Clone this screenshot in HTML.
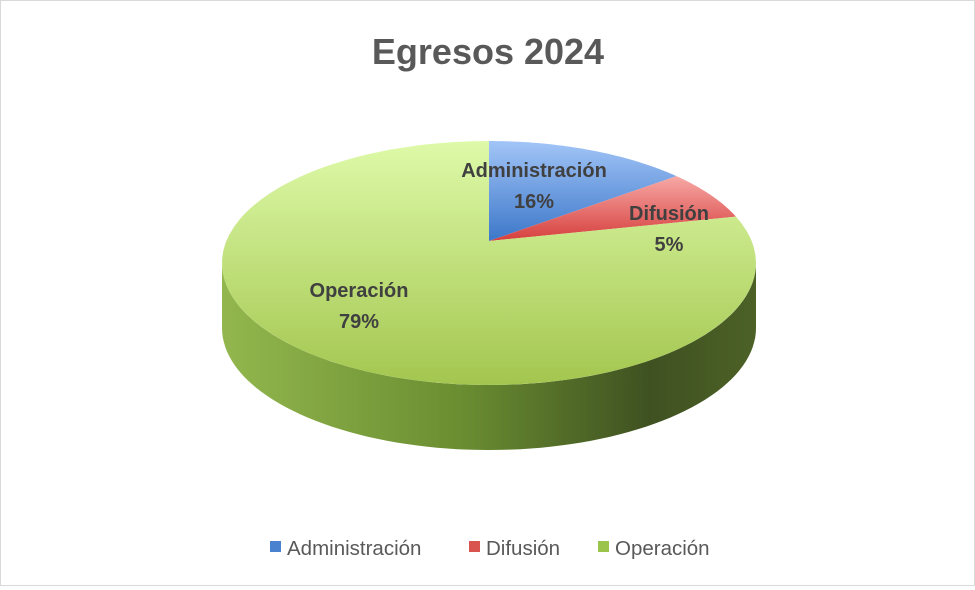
<!DOCTYPE html>
<html><head><meta charset="utf-8"><style>
body{margin:0;background:#fff;font-family:"Liberation Sans",sans-serif}
#wrap{position:relative;width:973px;height:584px;border:1px solid #d9d9d9;background:#fff}
</style></head><body>
<div id="wrap">
<svg id="svg" width="973" height="584">
<defs>
<linearGradient id="gTop" x1="0" y1="0" x2="0" y2="1"><stop offset="0" stop-color="#defaa9"/><stop offset="1" stop-color="#a3c64f"/></linearGradient>
<linearGradient id="gSide" x1="0" y1="0" x2="1" y2="0"><stop offset="0" stop-color="#93b74e"/><stop offset="0.45" stop-color="#6a8d31"/><stop offset="0.8" stop-color="#3f5121"/><stop offset="1" stop-color="#4c6126"/></linearGradient>
<linearGradient id="gBlue" x1="0" y1="0" x2="0" y2="1"><stop offset="0" stop-color="#a2c5f7"/><stop offset="1" stop-color="#3c77c9"/></linearGradient>
<linearGradient id="gRed" x1="0" y1="0" x2="0" y2="1"><stop offset="0" stop-color="#f7a9a6"/><stop offset="1" stop-color="#d63f3d"/></linearGradient>
</defs>
<text x="487" y="63" text-anchor="middle" font-size="36" font-weight="bold" fill="#595959">Egresos 2024</text>
<g id="pie"></g>
<g id="legend"></g>
</svg>
</div>
<script>
const categories=["Administración","Difusión","Operación"];
const values=[16,5,79];
const labels=["16%","5%","79%"];
const fills=["url(#gBlue)","url(#gRed)","url(#gTop)"];
const legendColors=["#4a82d0","#d9534f","#9bc54a"];
const cx=488,cy=262,rx=267,ry=122,depth=65,apexY=240,k=1.6;
const NS="http://www.w3.org/2000/svg";
const pie=document.getElementById('pie');
function warp(phi){return Math.atan2(Math.sin(phi),k*Math.cos(phi));}
function pt(t,dy){return [cx+rx*Math.sin(t),cy-ry*Math.cos(t)+(dy||0)];}
function arcT(t0,t1,dy){let s="";const n=80;for(let i=0;i<=n;i++){const p=pt(t0+(t1-t0)*i/n,dy);s+=(i?"L":"")+p[0].toFixed(1)+","+p[1].toFixed(1);}return s;}
function unwrap(t,ref){while(t<ref-1e-9)t+=2*Math.PI;return t;}
let sp="M"+arcT(Math.PI/2,3*Math.PI/2,0);
let back=[];for(let i=0;i<=80;i++){const p=pt(3*Math.PI/2-Math.PI*i/80,depth);back.push(p[0].toFixed(1)+","+p[1].toFixed(1));}
sp+="L"+back.join("L")+"Z";
const side=document.createElementNS(NS,'path');side.setAttribute('d',sp);side.setAttribute('fill','url(#gSide)');


pie.appendChild(side);
const total=values.reduce((a,b)=>a+b,0);
let acc=0;
const labelPos=[[533,176],[668,219],[358,296]];
values.forEach((v,i)=>{
 const a0=acc/total*2*Math.PI;acc+=v;const a1=acc/total*2*Math.PI;
 let t0=unwrap(warp(a0),0),t1=unwrap(warp(a1),t0);
 if(a1>=2*Math.PI-1e-9)t1=2*Math.PI;
 const p=document.createElementNS(NS,'path');
 p.setAttribute('d',"M"+cx+","+apexY+"L"+arcT(t0,t1,0)+"Z");
 p.setAttribute('fill',fills[i]);
 
 
 pie.appendChild(p);
});
values.forEach((v,i)=>{
 const t=document.createElementNS(NS,'text');
 t.setAttribute('x',labelPos[i][0]);t.setAttribute('y',labelPos[i][1]);
 t.setAttribute('text-anchor','middle');t.setAttribute('font-size','20');t.setAttribute('font-weight','bold');t.setAttribute('fill','#404040');
 
 
 const s1=document.createElementNS(NS,'tspan');s1.setAttribute('x',labelPos[i][0]);s1.textContent=categories[i];
 const s2=document.createElementNS(NS,'tspan');s2.setAttribute('x',labelPos[i][0]);s2.setAttribute('dy','31');s2.textContent=labels[i];
 t.appendChild(s1);t.appendChild(s2);pie.appendChild(t);
});
const lg=document.getElementById('legend');
const lx=[269,468,597];
categories.forEach((c,i)=>{
 const g=document.createElementNS(NS,'g');
 
 
 const r=document.createElementNS(NS,'rect');r.setAttribute('x',lx[i]);r.setAttribute('y',540);r.setAttribute('width',11);r.setAttribute('height',11);r.setAttribute('fill',legendColors[i]);
 const t=document.createElementNS(NS,'text');t.setAttribute('x',lx[i]+17);t.setAttribute('y',554);t.setAttribute('font-size','20.5');t.setAttribute('fill','#595959');t.textContent=c;
 g.appendChild(r);g.appendChild(t);lg.appendChild(g);
});
</script>
</body></html>
